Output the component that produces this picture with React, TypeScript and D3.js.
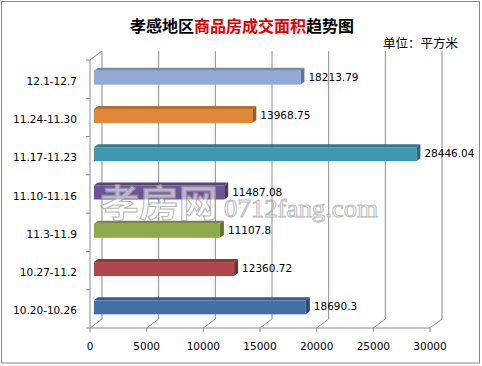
import React from "react";
import * as d3 from "d3";

const categories = ["12.1-12.7", "11.24-11.30", "11.17-11.23", "11.10-11.16", "11.3-11.9", "10.27-11.2", "10.20-10.26"];
const values = [18213.79, 13968.75, 28446.04, 11487.08, 11107.8, 12360.72, 18690.3];
const valueLabels = ["18213.79", "13968.75", "28446.04", "11487.08", "11107.8", "12360.72", "18690.3"];
const barColors = ["#93aad6", "#e0883a", "#3f98ae", "#6c5496", "#8eaa4c", "#b0474a", "#4470aa"];
const xTicks = [0, 5000, 10000, 15000, 20000, 25000, 30000];
const titleParts = [
  { text: "孝感地区", red: false },
  { text: "商品房成交面积", red: true },
  { text: "趋势图", red: false },
];
const unitText = "单位：平方米";
const watermarkCn = "孝房网";
const watermarkEn = "0712fang.com";

const W = 482;
const H = 366;
const x = d3.scaleLinear().domain([0, 30000]).range([90, 430]);
const y = d3.scaleBand<string>().domain(categories).range([60, 328]).padding(0);
const DX = 12;
const DY = -9;
const BDX = 4;
const BDY = -3;
const BAR_H = 14;
const FONT = "'DejaVu Sans', Verdana, sans-serif";

export default function App() {
  const y0 = 328;
  const yTop = 60;
  const x0 = x(0);
  const x1 = x(30000);
  const step = y.step();
  return (
    <svg width={W} height={H} style={{ position: "fixed", left: 0, top: 0, background: "#fff" }}>
      <rect x={0} y={0} width={W} height={H} fill="#fff" />
      <rect x={1.5} y={1.5} width={478} height={361.5} fill="none" stroke="#8a8a8a" strokeWidth={1} />
      {/* back wall gridlines */}
      {xTicks.map((t) => (
        <line key={"g" + t} x1={x(t) + DX} x2={x(t) + DX} y1={yTop + DY} y2={y0 + DY} stroke="#8c8c8c" strokeWidth={1} />
      ))}
      {/* floor diagonals */}
      {xTicks.map((t) => (
        <line key={"d" + t} x1={x(t)} y1={y0} x2={x(t) + DX} y2={y0 + DY} stroke="#8c8c8c" strokeWidth={1} />
      ))}
      {/* left wall */}
      <line x1={x0} y1={yTop} x2={x0 + DX} y2={yTop + DY} stroke="#8c8c8c" />
      <line x1={x0} y1={yTop} x2={x0} y2={y0} stroke="#8c8c8c" />
      <line x1={x0} y1={y0} x2={x1} y2={y0} stroke="#8c8c8c" />
      {/* y ticks */}
      {categories.map((c) => (
        <line key={"yt" + c} x1={x0 - 4} x2={x0} y1={y(c)!} y2={y(c)!} stroke="#8c8c8c" />
      ))}
      <line x1={x0 - 4} x2={x0} y1={y0} y2={y0} stroke="#8c8c8c" />
      {/* x ticks */}
      {xTicks.map((t) => (
        <line key={"xt" + t} x1={x(t)} x2={x(t)} y1={y0} y2={y0 + 4} stroke="#8c8c8c" />
      ))}
      {/* bars */}
      {categories.map((c, i) => {
        const cy = y(c)! + step / 2 - 1.5;
        const top = cy - BAR_H / 2;
        const bot = cy + BAR_H / 2;
        const bx0 = x(0) + 4;
        const bx1 = x(values[i]) + 4;
        const col = d3.color(barColors[i])!;
        const topCol = (col as any).darker(0.6).toString();
        const sideCol = (col as any).darker(1.1).toString();
        const topPts = [[bx0, top], [bx1, top], [bx1 + BDX, top + BDY], [bx0 + BDX, top + BDY]];
        const sidePts = [[bx1, top], [bx1 + BDX, top + BDY], [bx1 + BDX, bot + BDY], [bx1, bot]];
        return (
          <g key={"b" + c}>
            <polygon points={topPts.map((p) => p.join(",")).join(" ")} fill={topCol} />
            <polygon points={sidePts.map((p) => p.join(",")).join(" ")} fill={sideCol} />
            <rect x={bx0} y={top} width={bx1 - bx0} height={BAR_H} fill={barColors[i]} />
            <text x={bx1 + 8} y={cy - 1} dominantBaseline="central" fontFamily={FONT} fontSize={10.5} fill="#000">
              {valueLabels[i]}
            </text>
          </g>
        );
      })}
      {/* category labels */}
      {categories.map((c) => (
        <text key={"cl" + c} x={77} y={y(c)! + step / 2 + 1.5} textAnchor="end" dominantBaseline="central" fontFamily={FONT} fontSize={10.5} fill="#000">
          {c}
        </text>
      ))}
      {/* x labels */}
      {xTicks.map((t) => (
        <text key={"xl" + t} x={x(t)} y={346} textAnchor="middle" dominantBaseline="central" fontFamily={FONT} fontSize={10.5} fill="#000">
          {t}
        </text>
      ))}
      {/* title */}
      <text x={242} y={25} textAnchor="middle" dominantBaseline="central" fontFamily="'Noto Sans CJK SC', sans-serif" fontSize={16} fontWeight="bold">
        {titleParts.map((p, i) => (
          <tspan key={i} fill={p.red ? "#e00000" : "#000"}>{p.text}</tspan>
        ))}
      </text>
      <text x={458} y={42} textAnchor="end" dominantBaseline="central" fontFamily="'Noto Sans CJK SC', sans-serif" fontSize={12.5} fill="#000">
        {unitText}
      </text>
      {/* watermark */}
      <g opacity={0.75}>
        <text x={100} y={201} dominantBaseline="central" fontFamily="'Noto Sans CJK SC', sans-serif" fontSize={37} fontWeight="bold" fill="#ffffff" fillOpacity={0.75} stroke="#a0a0a0" strokeWidth={1} textLength={118} lengthAdjust="spacingAndGlyphs">
          {watermarkCn}
        </text>
        <text x={224} y={208} dominantBaseline="central" fontFamily="'Liberation Serif', serif" fontSize={25} fill="#ffffff" fillOpacity={0.6} stroke="#a8a8a8" strokeWidth={1} textLength={154} lengthAdjust="spacingAndGlyphs">
          {watermarkEn}
        </text>
      </g>
    </svg>
  );
}
